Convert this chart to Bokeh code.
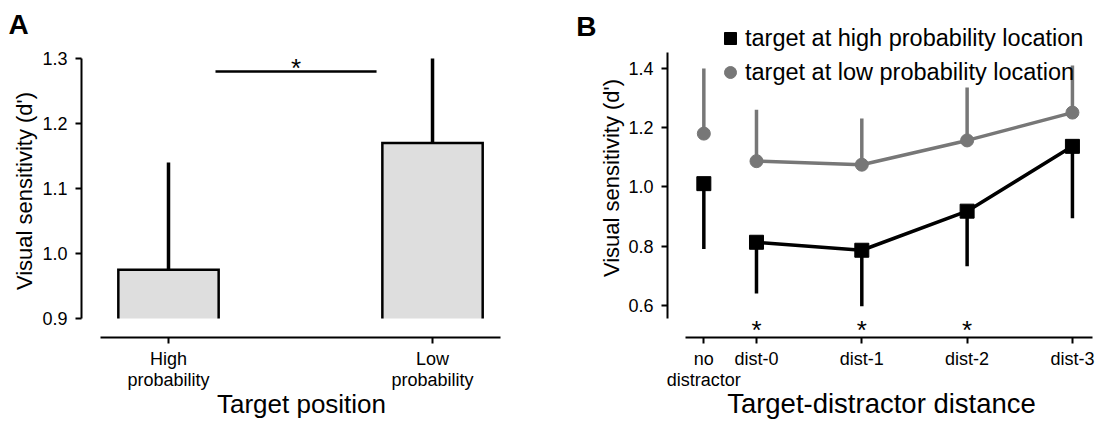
from bokeh.plotting import figure
from bokeh.layouts import row
from bokeh.models import (Range1d, FixedTicker, Legend, LegendItem, PrintfTickFormatter,
                          Title, LinearAxis)
from bokeh.core.properties import value
from bokeh.embed import file_html
from bokeh.resources import INLINE

FONT = "Liberation Sans"
GRAY = "#777777"

# ---------------- Panel A data ----------------
a_categories = ["High\nprobability", "Low\nprobability"]
a_means = [0.975, 1.17]
a_err_up = [0.165, 0.13]
a_yticks = [0.9, 1.0, 1.1, 1.2, 1.3]

# ---------------- Panel B data ----------------
b_categories = ["no\ndistractor", "dist-0", "dist-1", "dist-2", "dist-3"]
b_x = [-0.5, 0, 1, 2, 3]
b_high_means = [1.011, 0.813, 0.786, 0.918, 1.137]
b_high_err_down = [0.221, 0.173, 0.189, 0.186, 0.243]
b_low_means = [1.18, 1.087, 1.075, 1.157, 1.251]
b_low_err_up = [0.22, 0.174, 0.156, 0.179, 0.159]
b_significant = [False, True, True, True, False]
b_yticks = [0.6, 0.8, 1.0, 1.2, 1.4]


def style(p):
    p.outline_line_color = None
    p.xgrid.visible = False
    p.ygrid.visible = False
    p.background_fill_color = "white"
    p.border_fill_color = "white"
    try:
        p.frame_align = False
    except Exception:
        pass
    for ax in p.axis:
        ax.axis_line_width = 2
        ax.axis_line_color = "black"
        ax.major_tick_line_width = 2
        ax.major_tick_line_color = "black"
        ax.major_tick_out = 6
        ax.major_tick_in = 0
        ax.minor_tick_line_color = None
        ax.major_label_text_font = FONT
        ax.major_label_text_font_size = "18px"
        ax.major_label_text_color = "black"
        ax.axis_label_text_font = FONT
        ax.axis_label_text_font_style = "normal"
        ax.axis_label_text_color = "black"


# ================= Panel A =================
a_x = list(range(len(a_categories)))
pa = figure(width=545, height=422, output_backend="svg", toolbar_location=None,
            x_range=Range1d(-0.3295, 1.337), y_range=Range1d(0.87077, 1.32154),
            min_border_left=81, min_border_right=24, min_border_top=44,
            min_border_bottom=85)
style(pa)
pa.yaxis.ticker = FixedTicker(ticks=a_yticks)
pa.yaxis.formatter = PrintfTickFormatter(format="%.1f")
pa.yaxis.bounds = (a_yticks[0], a_yticks[-1])
pa.yaxis.axis_label = "Visual sensitivity (d')"
pa.yaxis.axis_label_text_font_size = "22px"
pa.yaxis.axis_label_standoff = 2
pa.yaxis.major_label_standoff = 8
pa.xaxis.ticker = FixedTicker(ticks=a_x)
pa.xaxis.major_label_overrides = {i: c for i, c in zip(a_x, a_categories)}
pa.xaxis.bounds = (-0.258, 1.258)
pa.xaxis.major_label_standoff = 5
pa.xaxis.major_label_text_line_height = 1.05
pa.xaxis.axis_label = "Target position"
pa.xaxis.axis_label_text_font_size = "26px"
pa.xaxis.axis_label_standoff = -4

BASE_A = 0.9
W = 0.38
pa.vbar(x=a_x, top=a_means, bottom=BASE_A, width=W, fill_color="#dedede", line_color=None)
pa.multi_line(xs=[[x - W / 2, x - W / 2, x + W / 2, x + W / 2] for x in a_x],
              ys=[[BASE_A, m, m, BASE_A] for m in a_means],
              line_color="black", line_width=2.5, line_join="miter")
pa.segment(x0=a_x, y0=a_means, x1=a_x, y1=[m + e for m, e in zip(a_means, a_err_up)],
           line_color="black", line_width=3.5)
# significance bracket between the two bars
pa.segment(x0=[0.178], y0=[1.28], x1=[0.788], y1=[1.28], line_color="black", line_width=2.5)
pa.text(x=[0.483], y=[1.286], text=["*"], text_font=value(FONT), text_font_size="26px",
        text_align="center", text_baseline="alphabetic", text_color="black")
pa.add_layout(Title(text="A", align="left", offset=-73, text_font=FONT, text_font_style="bold",
                    text_font_size="28px", text_color="black"), "above")

# ================= Panel B =================
pb = figure(width=550, height=422, output_backend="svg", toolbar_location=None,
            x_range=Range1d(-0.845, 3.219), y_range=Range1d(0.49122, 1.5689),
            min_border_left=122, min_border_right=0, min_border_top=18,
            min_border_bottom=85)
# panel letter as an outer left tick label
letter_axis = LinearAxis(ticker=FixedTicker(ticks=[1.5419]), major_label_overrides={1.5419: "B"})
pb.add_layout(letter_axis, "left")
style(pb)
letter_axis.axis_line_color = None
letter_axis.major_tick_line_color = None
letter_axis.major_tick_out = 0
letter_axis.major_label_text_font_size = "28px"
letter_axis.major_label_text_font_style = "bold"
letter_axis.major_label_standoff = 0

yb = pb.yaxis[0]
yb.ticker = FixedTicker(ticks=b_yticks)
yb.formatter = PrintfTickFormatter(format="%.1f")
yb.bounds = (0.556, 1.454)
yb.axis_label = "Visual sensitivity (d')"
yb.axis_label_text_font_size = "22px"
yb.axis_label_standoff = 1
yb.major_label_standoff = 8
pb.xaxis.ticker = FixedTicker(ticks=b_x)
pb.xaxis.major_label_overrides = {x: c for x, c in zip(b_x, b_categories)}
pb.xaxis.bounds = (-0.674, 3.191)
pb.xaxis.major_label_standoff = 5
pb.xaxis.major_label_text_line_height = 1.05
pb.xaxis.axis_label = "Target-distractor distance"
pb.xaxis.axis_label_text_font_size = "27.5px"
pb.xaxis.axis_label_standoff = -5

# connecting lines (distractor conditions only)
pb.line(b_x[1:], b_low_means[1:], line_color=GRAY, line_width=3.5)
pb.line(b_x[1:], b_high_means[1:], line_color="black", line_width=3.5)
# error bars
pb.segment(x0=b_x, y0=b_low_means, x1=b_x, y1=[m + e for m, e in zip(b_low_means, b_low_err_up)],
           line_color=GRAY, line_width=3.5)
pb.segment(x0=b_x, y0=b_high_means, x1=b_x, y1=[m - e for m, e in zip(b_high_means, b_high_err_down)],
           line_color="black", line_width=3.5)
circ = pb.scatter(b_x, b_low_means, marker="circle", size=13, fill_color=GRAY, line_color=GRAY)
sq = pb.scatter(b_x, b_high_means, marker="square", size=14, fill_color="black", line_color="black")
sig_x = [x for x, s in zip(b_x, b_significant) if s]
pb.text(x=sig_x, y=[0.515] * len(sig_x), text=["*"] * len(sig_x), text_font=value(FONT),
        text_font_size="26px", text_align="center", text_baseline="alphabetic", text_color="black")

legend = Legend(items=[LegendItem(label="target at high probability location", renderers=[sq]),
                       LegendItem(label="target at low probability location", renderers=[circ])],
                location=(48, 248), glyph_width=30, glyph_height=34, label_standoff=-4,
                padding=0, spacing=0, margin=0, border_line_color=None,
                background_fill_alpha=0, label_text_font=FONT, label_text_font_size="23.5px",
                label_text_color="black")
pb.add_layout(legend)

layout = row(pa, pb)
open("out.html", "w").write(file_html(layout, INLINE))
